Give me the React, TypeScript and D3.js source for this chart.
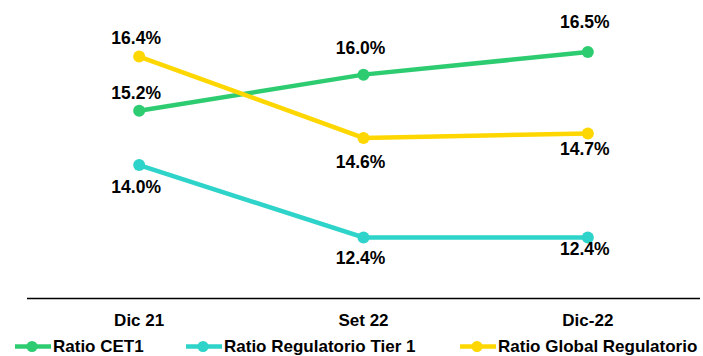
import React from "react";
import * as d3 from "d3";

const categories = ["Dic 21", "Set 22", "Dic-22"];
const seriesNames = ["Ratio CET1", "Ratio Regulatorio Tier 1", "Ratio Global Regulatorio"];
const cet1 = [15.2, 16.0, 16.5];
const tier1 = [14.0, 12.4, 12.4];
const globalReg = [16.4, 14.6, 14.7];

const colors = ["#2ECC71", "#2ED3C9", "#FFD700"];
// label vertical offsets (styling), per series per category
const labelDy = [
  [-12, -21, -24],
  [28, 27, 18],
  [-13, 30, 22],
];

const W = 703;
const H = 356;
const FONT = "'Liberation Sans', Arial, sans-serif";

export default function App() {
  const series = [cet1, tier1, globalReg];
  const x = d3.scaleBand<string>().domain(categories).range([27, 700]);
  const cx = (c: string) => (x(c) as number) + x.bandwidth() / 2;
  const y = d3.scaleLinear().domain([11, 17]).range([300.8, 29.4]);
  const line = d3
    .line<number>()
    .x((_, i) => cx(categories[i]))
    .y((d) => y(d));

  const legendX = [15, 186, 460];

  return (
    <svg
      width={W}
      height={H}
      style={{ position: "absolute", left: 0, top: 0, background: "#fff" }}
      fontFamily={FONT}
    >
      <line x1={27} x2={700} y1={298.5} y2={298.5} stroke="#000" strokeWidth={1.5} />
      {categories.map((c) => (
        <text
          key={c}
          x={cx(c)}
          y={326}
          textAnchor="middle"
          fontSize={17}
          fontWeight="bold"
          fill="#000"
        >
          {c}
        </text>
      ))}
      {series.map((s, si) => (
        <g key={si}>
          <path d={line(s) || ""} fill="none" stroke={colors[si]} strokeWidth={4.5} />
          {s.map((v, i) => (
            <circle key={i} cx={cx(categories[i])} cy={y(v)} r={6} fill={colors[si]} />
          ))}
          {s.map((v, i) => (
            <text
              key={"t" + i}
              x={cx(categories[i]) - 3}
              y={y(v) + labelDy[si][i]}
              textAnchor="middle"
              fontSize={17.5}
              fontWeight="bold"
              fill="#000"
            >
              {v.toFixed(1) + "%"}
            </text>
          ))}
        </g>
      ))}
      {seriesNames.map((n, i) => (
        <g key={n} transform={`translate(${legendX[i]},346.5)`}>
          <line x1={0} x2={36} y1={0} y2={0} stroke={colors[i]} strokeWidth={4.5} />
          <circle cx={17} cy={0} r={5.5} fill={colors[i]} />
          <text x={38} y={5.5} fontSize={17} fontWeight="bold" fill="#000">
            {n}
          </text>
        </g>
      ))}
    </svg>
  );
}
